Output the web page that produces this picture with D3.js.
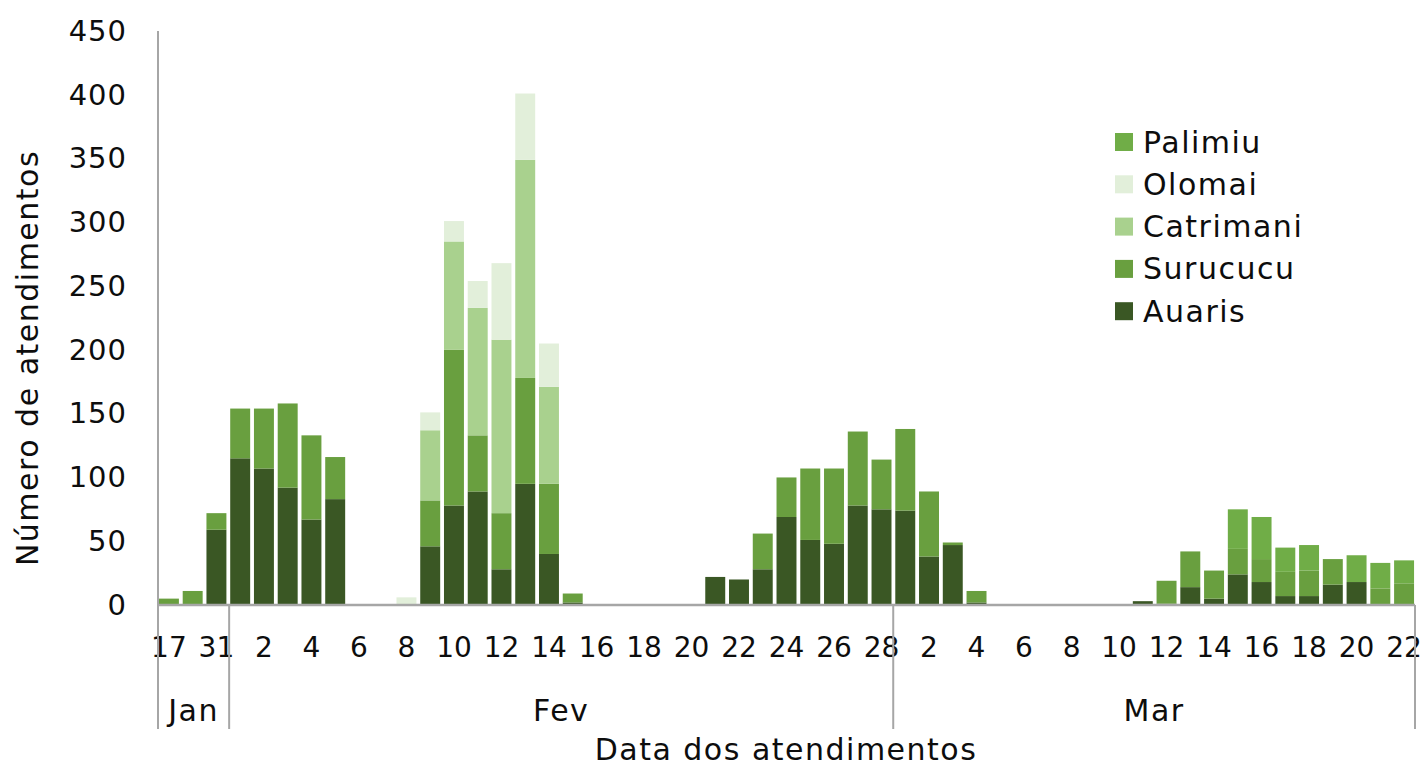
<!DOCTYPE html>
<html>
<head>
<meta charset="utf-8">
<script src="https://cdn.jsdelivr.net/npm/d3@7"></script>
<style>
  body { margin: 0; background: #fff; }
  text { font-family: "DejaVu Sans", sans-serif; fill: #0d0d0d; }
</style>
</head>
<body>
<svg class="chart" width="1424" height="767"></svg>
<script>
// Dias de atendimento (Jan 17, 30, 31; Fev 1-28; Mar 1-22)
const dias = ["17", "30", "31",
  "1", "2", "3", "4", "5", "6", "7", "8", "9", "10", "11", "12", "13", "14",
  "15", "16", "17", "18", "19", "20", "21", "22", "23", "24", "25", "26", "27", "28",
  "1", "2", "3", "4", "5", "6", "7", "8", "9", "10", "11",
  "12", "13", "14", "15", "16", "17", "18", "19", "20", "21", "22"];
const meses = ["Jan", "Fev", "Mar"];
const diasPorMes = [3, 28, 22];

// valores por polo base (mesma ordem de dias)
const auaris = [0, 0, 59,
  115, 107, 92, 67, 83, 0, 0, 0, 46, 78, 89, 28, 95, 40,
  2, 0, 0, 0, 0, 0, 22, 20, 28, 69, 51, 48, 78, 75,
  74, 38, 47, 2, 0, 0, 0, 0, 0, 0, 3,
  1, 14, 5, 24, 18, 7, 7, 16, 18, 0, 0];
const surucucu = [5, 11, 13,
  39, 47, 66, 66, 33, 0, 0, 0, 36, 122, 44, 44, 83, 55,
  7, 0, 0, 0, 0, 0, 0, 0, 28, 31, 56, 59, 58, 39,
  64, 51, 2, 9, 0, 0, 0, 0, 0, 0, 0,
  18, 28, 22, 20, 18, 19, 20, 20, 0, 13, 17];
const catrimani = [0, 0, 0,
  0, 0, 0, 0, 0, 0, 0, 0, 55, 85, 100, 136, 171, 76,
  0, 0, 0, 0, 0, 0, 0, 0, 0, 0, 0, 0, 0, 0,
  0, 0, 0, 0, 0, 0, 0, 0, 0, 0, 0,
  0, 0, 0, 0, 0, 0, 0, 0, 0, 0, 0];
const olomai = [0, 0, 0,
  0, 0, 0, 0, 0, 0, 0, 6, 14, 16, 21, 60, 52, 34,
  0, 0, 0, 0, 0, 0, 0, 0, 0, 0, 0, 0, 0, 0,
  0, 0, 0, 0, 0, 0, 0, 0, 0, 0, 0,
  0, 0, 0, 0, 0, 0, 0, 0, 0, 0, 0];
const palimiu = [0, 0, 0,
  0, 0, 0, 0, 0, 0, 0, 0, 0, 0, 0, 0, 0, 0,
  0, 0, 0, 0, 0, 0, 0, 0, 0, 0, 0, 0, 0, 0,
  0, 0, 0, 0, 0, 0, 0, 0, 0, 0, 0,
  0, 0, 0, 31, 33, 19, 20, 0, 21, 20, 18];

const polos = ["Auaris", "Surucucu", "Catrimani", "Olomai", "Palimiu"];
const yTicks = [0, 50, 100, 150, 200, 250, 300, 350, 400, 450];

const cores = {
  Auaris: "#3a5724",
  Surucucu: "#699f3f",
  Catrimani: "#a9d18e",
  Olomai: "#e2efda",
  Palimiu: "#70ad47"
};

const svg = d3.select(".chart");
const plotLeft = 158, plotRight = 1415, plotTop = 31, plotBottom = 605;

// monta as linhas para o stack
const data = dias.map((d, i) => ({
  i: i,
  Auaris: auaris[i],
  Surucucu: surucucu[i],
  Catrimani: catrimani[i],
  Olomai: olomai[i],
  Palimiu: palimiu[i]
}));

const x = d3.scaleBand()
  .domain(d3.range(dias.length))
  .range([plotLeft, plotRight])
  .paddingInner(0.16)
  .paddingOuter(0.04);

const y = d3.scaleLinear().domain([0, 450]).range([plotBottom, plotTop]);

const series = d3.stack().keys(polos)(data);

svg.append("g")
  .selectAll("g")
  .data(series)
  .join("g")
  .attr("fill", s => cores[s.key])
  .selectAll("rect")
  .data(s => s)
  .join("rect")
  .attr("x", d => x(d.data.i))
  .attr("width", x.bandwidth())
  .attr("y", d => y(d[1]))
  .attr("height", d => y(d[0]) - y(d[1]));

// eixo y
const yAxis = svg.append("g")
  .attr("transform", `translate(${plotLeft},0)`)
  .call(d3.axisLeft(y).tickValues(yTicks).tickSize(0).tickPadding(31));
yAxis.select(".domain").remove();
yAxis.selectAll("text")
  .style("font-size", "29px")
  .style("letter-spacing", "1px")
  .style("font-family", "'DejaVu Sans', sans-serif")
  .attr("fill", "#0d0d0d");

svg.append("line")
  .attr("x1", plotLeft).attr("x2", plotLeft)
  .attr("y1", plotTop).attr("y2", plotBottom)
  .attr("stroke", "#a6a6a6").attr("stroke-width", 2);

// eixo x (dias)
const xAxis = svg.append("g")
  .attr("transform", `translate(0,${plotBottom})`)
  .call(d3.axisBottom(x).tickSize(0).tickPadding(32)
    .tickFormat(i => i % 2 === 0 ? dias[i] : ""));
xAxis.select(".domain").remove();
xAxis.selectAll("text")
  .style("font-size", "28px")
  .style("font-family", "'DejaVu Sans', sans-serif")
  .attr("fill", "#0d0d0d");

svg.append("line")
  .attr("x1", plotLeft).attr("x2", plotRight)
  .attr("y1", plotBottom).attr("y2", plotBottom)
  .attr("stroke", "#a6a6a6").attr("stroke-width", 2.5);

// meses: separadores e rótulos
let acc = 0;
const limites = [0];
diasPorMes.forEach(n => { acc += n; limites.push(acc); });
const bandX = k => plotLeft + (plotRight - plotLeft) * k / dias.length;

svg.append("g")
  .selectAll("line")
  .data(limites)
  .join("line")
  .attr("x1", k => bandX(k)).attr("x2", k => bandX(k))
  .attr("y1", plotBottom).attr("y2", 729)
  .attr("stroke", "#a6a6a6").attr("stroke-width", 2);

svg.append("g")
  .selectAll("text")
  .data(meses)
  .join("text")
  .attr("x", (m, j) => (bandX(limites[j]) + bandX(limites[j + 1])) / 2)
  .attr("y", 721)
  .attr("text-anchor", "middle")
  .style("font-size", "30px")
  .style("letter-spacing", "1.5px")
  .text(m => m);

// títulos dos eixos
svg.append("text")
  .attr("x", 786)
  .attr("y", 760)
  .attr("text-anchor", "middle")
  .style("font-size", "30px")
  .style("letter-spacing", "1.5px")
  .text("Data dos atendimentos");

svg.append("text")
  .attr("transform", "translate(38,358) rotate(-90)")
  .attr("text-anchor", "middle")
  .style("font-size", "30px")
  .style("letter-spacing", "1.5px")
  .text("Número de atendimentos");

// título (cortado no topo, como no original)
svg.append("text")
  .attr("x", 677)
  .attr("y", -4)
  .attr("text-anchor", "middle")
  .style("font-size", "30px")
  .style("letter-spacing", "6px")
  .text("(2023)");

// legenda
const legenda = polos.slice().reverse();
const leg = svg.append("g")
  .selectAll("g")
  .data(legenda)
  .join("g")
  .attr("transform", (d, i) => `translate(1115,${133 + i * 42.3})`);

leg.append("rect")
  .attr("width", 18).attr("height", 18)
  .attr("fill", d => cores[d]);

leg.append("text")
  .attr("x", 28)
  .attr("y", 9)
  .attr("dy", "0.35em")
  .style("font-size", "30px")
  .style("letter-spacing", "1.5px")
  .text(d => d);
</script>
</body>
</html>
